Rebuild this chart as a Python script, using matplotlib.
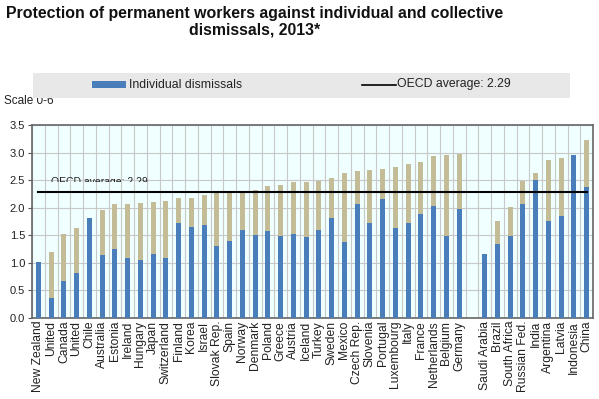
import numpy as np
import matplotlib
matplotlib.use('Agg')
import matplotlib.pyplot as plt
from matplotlib.patches import Rectangle
from matplotlib.lines import Line2D
from matplotlib.transforms import Bbox, TransformedBbox

plt.rcParams['font.family'] = ['Liberation Sans', 'DejaVu Sans']

# OECD countries, then a gap, then partner economies
oecd_countries = ["New Zealand", "United", "Canada", "United", "Chile", "Australia",
                  "Estonia", "Ireland", "Hungary", "Japan", "Switzerland", "Finland",
                  "Korea", "Israel", "Slovak Rep.", "Spain", "Norway", "Denmark",
                  "Poland", "Greece", "Austria", "Iceland", "Turkey", "Sweden",
                  "Mexico", "Czech Rep.", "Slovenia", "Portugal", "Luxembourg",
                  "Italy", "France", "Netherlands", "Belgium", "Germany"]
oecd_individual = [1.02, 0.37, 0.67, 0.81, 1.82, 1.14, 1.25, 1.08, 1.05, 1.16,
                   1.08, 1.72, 1.65, 1.69, 1.31, 1.40, 1.60, 1.51, 1.57, 1.49,
                   1.52, 1.46, 1.59, 1.82, 1.38, 2.06, 1.72, 2.16, 1.63, 1.73,
                   1.88, 2.03, 1.49, 1.97]
oecd_total = [1.02, 1.19, 1.52, 1.64, 1.82, 1.95, 2.07, 2.07, 2.09, 2.10,
              2.12, 2.17, 2.17, 2.23, 2.27, 2.30, 2.30, 2.32, 2.40, 2.41,
              2.46, 2.47, 2.49, 2.53, 2.63, 2.67, 2.69, 2.70, 2.74, 2.80,
              2.83, 2.94, 2.96, 2.98]

partner_countries = ["Saudi Arabia", "Brazil", "South Africa", "Russian Fed.", "India",
                     "Argentina", "Latvia", "Indonesia", "China"]
partner_individual = [1.16, 1.34, 1.48, 2.06, 2.50, 1.76, 1.85, 2.96, 2.38]
partner_total = [1.16, 1.76, 2.01, 2.49, 2.63, 2.87, 2.91, 2.96, 3.23]

oecd_average = 2.29

BLUE = "#4a7ebb"
TAN = "#c4bc96"

labels = oecd_countries + [""] + partner_countries
individual = np.array(oecd_individual + [np.nan] + partner_individual)
total = np.array(oecd_total + [np.nan] + partner_total)
x = np.arange(len(labels))

fig = plt.figure(figsize=(5.99, 3.99), dpi=100)
ax = fig.add_axes([32 / 599, 1 - 318 / 399, 561 / 599, 193 / 399])
ax.set_facecolor("#f0ffff")

w = 0.38
ax.bar(x, individual, width=w, color=BLUE, zorder=3)
ax.bar(x, total - individual, bottom=individual, width=w, color=TAN, zorder=3)

ax.plot([x[0], x[-1]], [oecd_average, oecd_average], color="black", lw=1.5, zorder=4)
# the in-plot label is partly hidden in the original, bottom cut off
t = ax.text(4.8, oecd_average + 0.12, f"OECD average: {oecd_average}", fontsize=7.5,
            color="#222222", ha="center", va="baseline", zorder=5)
t.set_clip_path(None)
t.set_clip_on(True)
t.set_clip_box(TransformedBbox(Bbox([[-1, 2.47], [20, 4]]), ax.transData))

ax.set_xlim(-0.5, len(labels) - 0.5)
ax.set_ylim(0, 3.5)
ax.set_yticks(np.arange(0, 3.51, 0.5))
ax.set_yticklabels([f"{v:.1f}" for v in np.arange(0, 3.51, 0.5)], fontsize=8, color="#222222")
ax.set_xticks(x)
ax.set_xticklabels(labels, rotation=90, fontsize=8.7, color="#222222")
ax.set_xticks(np.arange(-0.5, len(labels), 1), minor=True)
ax.tick_params(axis="x", which="both", length=0, pad=2)
ax.tick_params(axis="y", length=3, color="#555555", pad=2)
ax.grid(True, which="minor", axis="x", color="#c8c8c8", lw=0.8, zorder=1)
ax.grid(True, which="major", axis="y", color="#c8c8c8", lw=0.8, zorder=1)
for s in ax.spines.values():
    s.set_color("#666666")
    s.set_linewidth(1.2)

fig.text(255 / 599, 1 - 22 / 399, "Protection of permanent workers against individual and collective\ndismissals, 2013*",
         ha="center", va="center", fontsize=11.4, fontweight="bold", color="#111111", linespacing=1.1)

fig.text(4 / 599, 1 - 101 / 399, "Scale 0-6", fontsize=8.5, color="#222222", va="center", zorder=1)

# legend strip
fig.patches.append(Rectangle((33 / 599, 1 - 98.3 / 399), 537 / 599, 25.6 / 399,
                             transform=fig.transFigure, facecolor="#e8e8e8", edgecolor="none", zorder=2))
fig.patches.append(Rectangle((92 / 599, 1 - 88 / 399), 34 / 599, 7 / 399,
                             transform=fig.transFigure, facecolor=BLUE, edgecolor="none", zorder=3))
fig.text(129 / 599, 1 - 84.5 / 399, "Individual dismissals", fontsize=8.8, color="#222222", va="center", zorder=4)
fig.lines.append(Line2D([362 / 599, 396 / 599], [1 - 84.5 / 399, 1 - 84.5 / 399],
                        transform=fig.transFigure, color="black", lw=1.2, zorder=3))
fig.text(397 / 599, 1 - 84.5 / 399, f"OECD average: {oecd_average}", fontsize=8.8, color="#222222",
         va="center", zorder=4)

fig.savefig("out.png", dpi=100)
